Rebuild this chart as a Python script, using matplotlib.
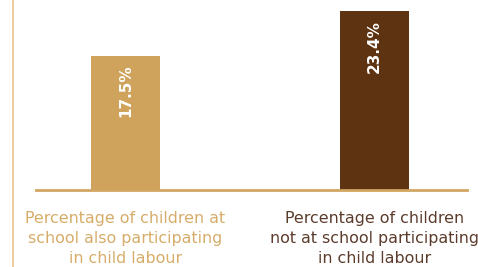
import matplotlib.pyplot as plt
import matplotlib.lines as mlines

categories = ["Percentage of children at\nschool also participating\nin child labour",
              "Percentage of children\nnot at school participating\nin child labour"]
values = [17.5, 23.4]
value_labels = ["17.5%", "23.4%"]

bar_colors = ["#cfa35b", "#5e3311"]
text_colors = ["#d6ac68", "#5b3b2b"]

plt.rc('font', **{'family': 'DejaVu Sans'})
fig = plt.figure(figsize=(4.78, 2.67), dpi=100)
ax = fig.add_axes([36 / 478, 77 / 267, 431 / 478, 190 / 267])

xs = [0, 1]
ax.bar(xs, values, width=0.277, color=bar_colors, zorder=2)
ax.set_xlim(-0.3594, 1.3715)
ax.set_ylim(0, 24.9)

for x, v, lab in zip(xs, values, value_labels):
    ax.annotate(lab, xy=(x, v), xytext=(0, -6), textcoords='offset points',
                rotation=90, ha='center', va='top', color='white',
                fontsize=11, fontweight='bold')

for s in ['top', 'right', 'left']:
    ax.spines[s].set_visible(False)
ax.spines['bottom'].set_color("#d2a662")
ax.spines['bottom'].set_linewidth(2)
ax.set_yticks([])
ax.set_xticks(xs)
ax.set_xticklabels(categories, fontsize=11.4, linespacing=1.42)
ax.tick_params(axis='x', length=0, pad=15)
for t, c in zip(ax.get_xticklabels(), text_colors):
    t.set_color(c)

fig.add_artist(mlines.Line2D([12.5 / 478, 12.5 / 478], [0, 1], color="#e6c48e",
                             linewidth=1.2, transform=fig.transFigure))

fig.savefig("out.png", dpi=100)
